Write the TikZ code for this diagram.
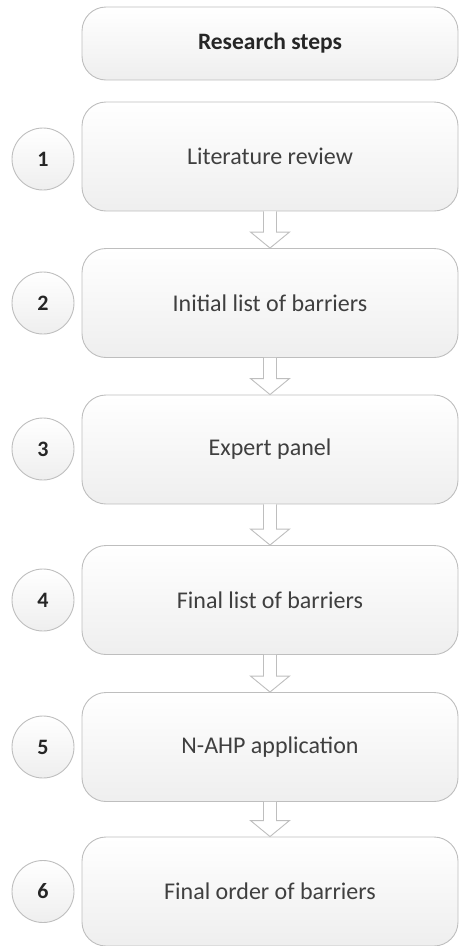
\documentclass[tikz,border=0pt]{standalone}
\usepackage{fontspec}
\setmainfont{Carlito}
\usetikzlibrary{positioning,calc}
\definecolor{edgegray}{HTML}{BEBEBE}
\definecolor{inkgray}{HTML}{3F3F3F}

\begin{document}
\begin{tikzpicture}[
    x=1pt, y=-1pt,
    stepbox/.style={
        draw=edgegray,
        line width=0.9pt,
        rounded corners=24pt,
        minimum width=376pt,
        minimum height=109pt,
        top color=white,
        bottom color=gray!13,
        font=\fontsize{24}{28}\selectfont,
        text=inkgray,
        align=center,
    },
    headbox/.style={
        stepbox,
        minimum height=73pt,
        font=\fontsize{23.5}{28}\selectfont\bfseries,
        text=black!85,
    },
    numdisc/.style={
        circle,
        draw=edgegray,
        line width=0.9pt,
        minimum size=62pt,
        inner sep=0pt,
        top color=white,
        bottom color=gray!13,
        font=\fontsize{22}{24}\selectfont\bfseries,
        text=black!85,
    },
    blockarrow/.style={
        draw=edgegray,
        line width=0.9pt,
        fill=white,
        line join=miter,
    },
]
\useasboundingbox (0,0) rectangle (461,946);

\node[headbox] (H) at (270, 43.5) {Research steps};
\node[stepbox] (S1) at (270, 156.5) {Literature review};
\node[stepbox] (S2) at (270, 303) {Initial list of barriers};
\node[stepbox] (S3) at (270, 449.5) {Expert panel};
\node[stepbox] (S4) at (270, 600) {Final list of barriers};
\node[stepbox] (S5) at (270, 747) {N-AHP application};
\node[stepbox] (S6) at (270, 891.5) {Final order of barriers};

\node[numdisc] (N1) at (43, 159) {1};
\node[numdisc] (N2) at (43, 303) {2};
\node[numdisc] (N3) at (43, 449) {3};
\node[numdisc] (N4) at (43, 600) {4};
\node[numdisc] (N5) at (43, 747) {5};
\node[numdisc] (N6) at (43, 891.5) {6};

% hollow arrows between the steps
\foreach \a/\b in {S1/S2, S2/S3, S3/S4, S4/S5, S5/S6} {
    \draw[blockarrow] ($(\a.south)+(-6.5,0)$)
        -- ($(\b.north)+(-6.5,-16)$) -- ($(\b.north)+(-19.5,-16)$)
        -- (\b.north)
        -- ($(\b.north)+(19.5,-16)$) -- ($(\b.north)+(6.5,-16)$)
        -- ($(\a.south)+(6.5,0)$);
}

\end{tikzpicture}
\end{document}
